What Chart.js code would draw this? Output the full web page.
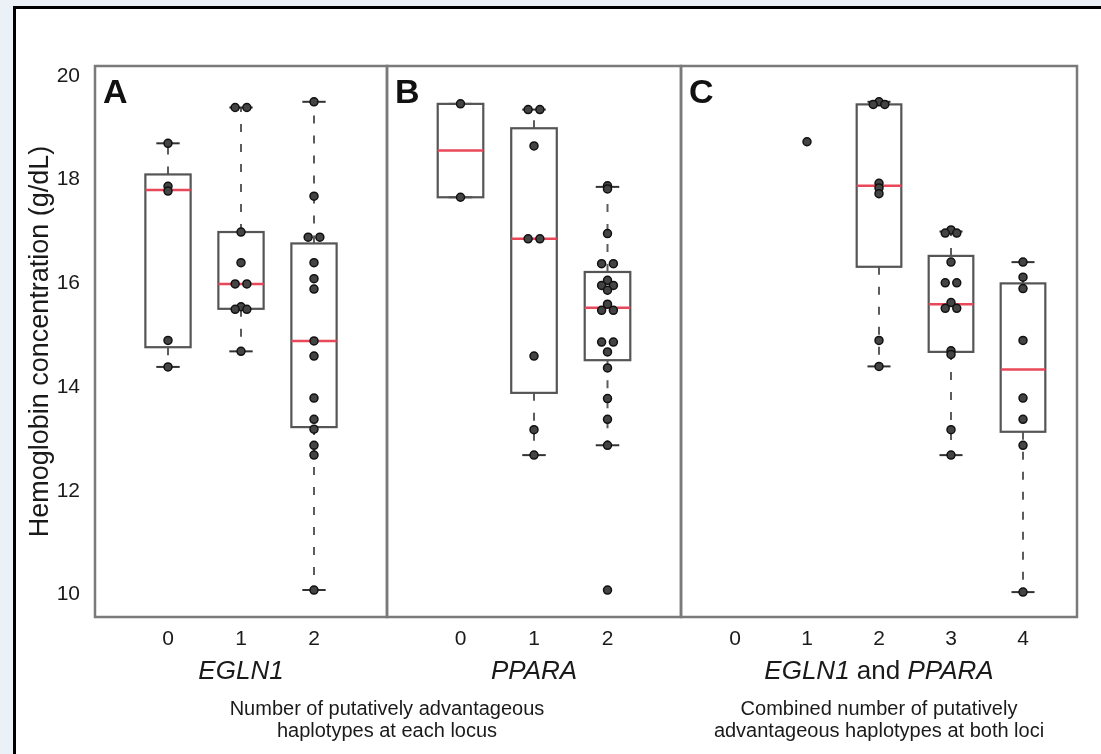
<!DOCTYPE html>
<html lang="en">
<head>
<meta charset="UTF-8">
<script src="https://cdn.jsdelivr.net/npm/chart.js"></script>
<style>
  body { margin: 0; width: 1101px; height: 754px; overflow: hidden; position: relative; background: #ebf1f7; }
  .frame { position: absolute; left: 13px; top: 6px; right: 0; bottom: 0; background: #fff; border-top: 3px solid #000; border-left: 3px solid #000; }
  #chart { position: absolute; left: 0; top: 0; }
</style>
</head>
<body>
<div class="frame"></div>
<canvas id="chart" width="1101" height="754"></canvas>
<script>
// axis values
const yTicks = [10, 12, 14, 16, 18, 20];
const Y_MIN = 9.57, Y_MAX = 20.19;
const catsAB = [0, 1, 2];
const catsC = [0, 1, 2, 3, 4];

// A: EGLN1 (box stats)
const egLow  = [14.39, 14.69, 10.09];
const egQ1   = [14.77, 15.51, 13.23];
const egMed  = [17.80, 15.99, 14.89];
const egQ3   = [18.10, 16.99, 16.77];
const egHigh = [18.70, 19.39, 19.50];
const egPts0 = [18.70, 17.87, 17.78, 14.90, 14.39];
const egPts1 = [19.39, 19.39, 16.99, 16.40, 15.99, 15.99, 15.55, 15.50, 15.50, 14.69];
const egPts2 = [19.50, 17.68, 16.89, 16.89, 16.40, 16.09, 15.89, 14.89, 14.60, 13.79, 13.38, 13.19, 12.88, 12.69, 10.09];

// B: PPARA
const ppLow  = [17.66, 12.69, 12.88];
const ppQ1   = [17.66, 13.89, 14.52];
const ppMed  = [18.56, 16.86, 15.53];
const ppQ3   = [19.46, 18.99, 16.22];
const ppHigh = [19.46, 19.35, 17.86];
const ppPts0 = [19.46, 17.66];
const ppPts1 = [19.35, 19.35, 18.65, 16.86, 16.86, 14.60, 13.18, 12.69];
const ppPts2 = [17.88, 17.82, 16.96, 16.38, 16.38, 16.06, 15.96, 15.96, 15.87, 15.60, 15.48, 15.48, 14.87, 14.87, 14.68, 14.37, 13.78, 13.38, 12.88, 10.09];

// C: EGLN1 and PPARA combined
const bothLow  = [null, null, 14.40, 12.69, 10.05];
const bothQ1   = [null, null, 16.32, 14.68, 13.14];
const bothMed  = [null, null, 17.88, 15.60, 14.34];
const bothQ3   = [null, null, 19.45, 16.53, 16.00];
const bothHigh = [null, null, 19.50, 17.00, 16.41];
const bothPts0 = [];
const bothPts1 = [18.73];
const bothPts2 = [19.50, 19.45, 19.45, 17.93, 17.84, 17.73, 14.90, 14.40];
const bothPts3 = [17.03, 16.97, 16.97, 16.41, 16.01, 16.01, 15.63, 15.52, 15.52, 14.70, 14.63, 13.18, 12.69];
const bothPts4 = [16.41, 16.12, 15.90, 14.90, 13.79, 13.38, 12.88, 10.05];

const subtitleAB = ['Number of putatively advantageous', 'haplotypes at each locus'];
const subtitleC = ['Combined number of putatively', 'advantageous haplotypes at both loci'];

const FONT = "'Liberation Sans', Arial, Helvetica, sans-serif";
const BOX_HALF = 0.31, CAP_HALF = 0.16, SPREAD = 0.16;
const INK = '#1a1a1a';

const panels = [
  { axis: 'xA', letter: 'A', cats: catsAB, low: egLow, q1: egQ1, med: egMed, q3: egQ3, high: egHigh, pts: [egPts0, egPts1, egPts2],
    title: [['EGLN1', true]] },
  { axis: 'xB', letter: 'B', cats: catsAB, low: ppLow, q1: ppQ1, med: ppMed, q3: ppQ3, high: ppHigh, pts: [ppPts0, ppPts1, ppPts2],
    title: [['PPARA', true]] },
  { axis: 'xC', letter: 'C', cats: catsC, low: bothLow, q1: bothQ1, med: bothMed, q3: bothQ3, high: bothHigh,
    pts: [bothPts0, bothPts1, bothPts2, bothPts3, bothPts4],
    title: [['EGLN1', true], [' and ', false], ['PPARA', true]] }
];

// tied values sit side by side, centred on the category
function swarm(cat, values) {
  const counts = {}, seen = {};
  values.forEach(v => counts[v] = (counts[v] || 0) + 1);
  return values.map(v => {
    const k = seen[v] = (seen[v] === undefined ? 0 : seen[v] + 1);
    return { x: cat + (k - (counts[v] - 1) / 2) * SPREAD, y: v };
  });
}

function line(ctx, x1, y1, x2, y2) {
  ctx.beginPath(); ctx.moveTo(x1, y1); ctx.lineTo(x2, y2); ctx.stroke();
}

const boxPlugin = {
  id: 'boxes',
  beforeDatasetsDraw(chart) {
    const { ctx } = chart;
    const y = chart.scales.y;
    ctx.save();
    panels.forEach(p => {
      const x = chart.scales[p.axis];
      p.cats.forEach((c, i) => {
        if (p.med[i] == null) return;
        const xc = x.getPixelForValue(c);
        const hw = x.getPixelForValue(c + BOX_HALF) - xc;
        const cw = x.getPixelForValue(c + CAP_HALF) - xc;
        const yl = y.getPixelForValue(p.low[i]);
        const y1 = y.getPixelForValue(p.q1[i]);
        const ym = y.getPixelForValue(p.med[i]);
        const y3 = y.getPixelForValue(p.q3[i]);
        const yh = y.getPixelForValue(p.high[i]);
        ctx.strokeStyle = '#5c5c5c'; ctx.lineWidth = 2; ctx.setLineDash([8, 12]);
        line(ctx, xc, y3, xc, yh);
        line(ctx, xc, y1, xc, yl);
        ctx.setLineDash([]);
        ctx.strokeStyle = '#333';
        line(ctx, xc - cw, yh, xc + cw, yh);
        line(ctx, xc - cw, yl, xc + cw, yl);
        ctx.strokeStyle = '#555'; ctx.lineWidth = 2.2;
        ctx.strokeRect(xc - hw, y3, 2 * hw, y1 - y3);
        ctx.strokeStyle = '#e8485a'; ctx.lineWidth = 2.5;
        line(ctx, xc - hw, ym, xc + hw, ym);
      });
    });
    ctx.restore();
  },
  afterDraw(chart) {
    const { ctx, chartArea: area } = chart;
    ctx.save();
    panels.forEach(p => {
      const x = chart.scales[p.axis];
      // panel frame
      ctx.strokeStyle = '#7a7a7a'; ctx.lineWidth = 2.5;
      ctx.strokeRect(x.left, area.top, x.right - x.left, area.bottom - area.top);
      // panel letter
      ctx.fillStyle = '#111';
      ctx.font = 'bold 34px ' + FONT;
      ctx.textAlign = 'left'; ctx.textBaseline = 'alphabetic';
      ctx.fillText(p.letter, x.left + 8, area.top + 37);
      // locus title, italic gene names
      const fontOf = it => (it ? 'italic ' : '') + '26px ' + FONT;
      let total = 0;
      p.title.forEach(([t, it]) => { ctx.font = fontOf(it); total += ctx.measureText(t).width; });
      let tx = (x.left + x.right) / 2 - total / 2;
      ctx.fillStyle = INK; ctx.textBaseline = 'middle';
      p.title.forEach(([t, it]) => {
        ctx.font = fontOf(it);
        ctx.fillText(t, tx, 672);
        tx += ctx.measureText(t).width;
      });
    });
    // explanatory lines under the titles
    ctx.font = '20px ' + FONT; ctx.textAlign = 'center'; ctx.fillStyle = INK;
    const xA = chart.scales.xA, xC = chart.scales.xC;
    subtitleAB.forEach((t, i) => ctx.fillText(t, xA.right, 709 + i * 22));
    subtitleC.forEach((t, i) => ctx.fillText(t, (xC.left + xC.right) / 2, 709 + i * 22));
    ctx.restore();
  }
};

function xAxis(cats, min, max, weight) {
  return {
    type: 'linear', position: 'bottom', stack: 'panels', stackWeight: weight,
    min: min, max: max,
    grid: { display: false }, border: { display: false },
    afterBuildTicks: s => { s.ticks = cats.map(v => ({ value: v })); },
    afterFit: s => { s.height = 137; },
    ticks: { font: { family: FONT, size: 21 }, color: INK, padding: 2, autoSkip: false, maxRotation: 0 }
  };
}

const datasets = [];
panels.forEach(p => {
  const data = [];
  p.cats.forEach((c, i) => data.push(...swarm(c, p.pts[i])));
  datasets.push({
    xAxisID: p.axis, yAxisID: 'y', data: data,
    pointRadius: 4, pointBackgroundColor: '#444', pointBorderColor: '#111', pointBorderWidth: 1.5
  });
});

new Chart(document.getElementById('chart'), {
  type: 'scatter',
  data: { datasets: datasets },
  options: {
    responsive: false,
    animation: false,
    events: [],
    layout: { padding: { top: 66, right: 24, bottom: 0, left: 0 } },
    plugins: { legend: { display: false }, tooltip: { enabled: false } },
    scales: {
      y: {
        type: 'linear', position: 'left', min: Y_MIN, max: Y_MAX,
        grid: { display: false }, border: { display: false },
        afterBuildTicks: s => { s.ticks = yTicks.map(v => ({ value: v })); },
        afterFit: s => { s.width = 95; },
        ticks: { font: { family: FONT, size: 21 }, color: INK, padding: 7 },
        title: { display: true, text: 'Hemoglobin concentration (g/dL)', color: INK,
                 font: { family: FONT, size: 27 }, padding: { top: 24, bottom: 0 } }
      },
      xA: xAxis(catsAB, -1, 3, 292),
      xB: xAxis(catsAB, -1, 3, 294),
      xC: xAxis(catsC, -0.75, 4.75, 396)
    }
  },
  plugins: [boxPlugin]
});
</script>
</body>
</html>
